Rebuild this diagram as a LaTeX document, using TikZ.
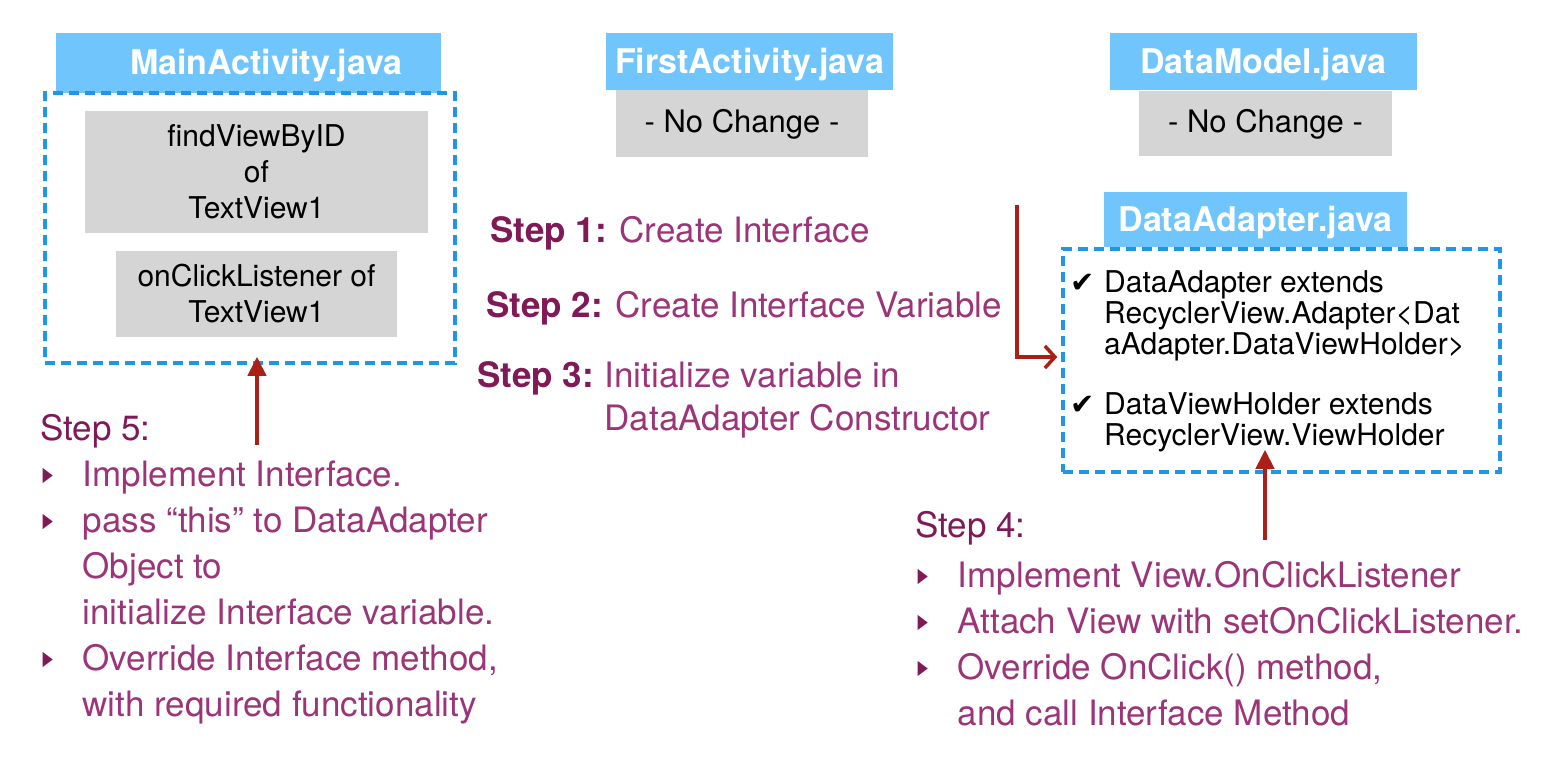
\documentclass[tikz,border=0pt]{standalone}
\usepackage{fontspec}
\setmainfont{TeX Gyre Heros}
\newfontfamily\symbolfont{DejaVu Sans}
\usetikzlibrary{positioning,arrows.meta}

\definecolor{headblue}{RGB}{112,198,252}
\definecolor{dashblue}{RGB}{28,152,230}
\definecolor{boxgray}{RGB}{214,213,214}
\definecolor{stepdark}{RGB}{128,26,86}
\definecolor{steplight}{RGB}{156,52,120}
\definecolor{arrowred}{RGB}{170,32,22}

\newcommand{\bul}{\hspace{2.5pt}\tikz[baseline=-3pt]\fill[stepdark] (0pt,0pt) -- (0pt,15pt) -- (10pt,7.5pt) -- cycle;}
\newcommand{\chk}{\makebox[34pt][l]{\symbolfont\fontsize{29}{31}\selectfont ✔}}
\newcommand{\stepno}[1]{\textcolor{stepdark}{\bfseries #1}}

\begin{document}
\begin{tikzpicture}[x=1pt,y=-1pt]

% definitions
\tikzstyle{header} = [rectangle, fill=headblue, text=white, font=\fontsize{34}{40}\selectfont\bfseries, text height=24pt, text depth=0pt, inner sep=0pt]
\tikzstyle{graybox} = [rectangle, fill=boxgray, text=black, font=\fontsize{30}{36}\selectfont, align=center, inner sep=0pt]
\tikzstyle{group} = [rectangle, draw=dashblue, line width=3.5pt, dash pattern=on 10pt off 6pt, inner sep=0pt]
\tikzstyle{steptext} = [text=steplight, font=\fontsize{35}{46}\selectfont, anchor=base west, inner sep=0pt]
\tikzstyle{codetext} = [text=black, font=\fontsize{30}{31}\selectfont, anchor=base west, inner sep=0pt]
\tikzstyle{arrow} = [color=arrowred, line width=4pt, -{Triangle[length=19pt,width=18pt]}]
\tikzstyle{openarrow} = [color=arrowred, line width=3.5pt, -{Straight Barb[length=10pt,width=22pt]}]

\useasboundingbox (0,0) rectangle (1550,770);

% the graph
\node (ma) [header, minimum width=385pt, minimum height=60pt] at (248.5,63) {\hspace{36pt}MainActivity.java};
\node (magroup) [group, minimum width=410pt, minimum height=270pt] at (250,228) {};
\node (find) [graybox, minimum width=343pt, minimum height=122pt] at (256.5,172) {findViewByID\\of\\TextView1};
\node (click) [graybox, minimum width=281pt, minimum height=86pt] at (256.5,294) {onClickListener of\\TextView1};

\node (fa) [header, minimum width=287pt, minimum height=57pt] at (749.5,61.5) {FirstActivity.java};
\node (fanc) [graybox, font=\fontsize{31}{36}\selectfont, minimum width=252pt, minimum height=67pt, below=0pt of fa, xshift=-7.5pt] {- No Change -};

\node (dm) [header, minimum width=307pt, minimum height=57pt] at (1263.5,61.5) {DataModel.java};
\node (dmnc) [graybox, font=\fontsize{31}{36}\selectfont, minimum width=253pt, minimum height=65pt, below=1pt of dm, xshift=2pt] {- No Change -};

\node (da) [header, minimum width=303pt, minimum height=55pt] at (1255.5,219.5) {DataAdapter.java};
\node (dagroup) [group, minimum width=437pt, minimum height=223pt] at (1281.5,360.5) {};
\node (dalist) [codetext] at (1070,292) {\begin{tabular}[t]{@{}l@{}l@{}}
\chk & DataAdapter extends\\
 & RecyclerView.Adapter<Dat\\
 & aAdapter.DataViewHolder>\\[29pt]
\chk & DataViewHolder extends\\
 & RecyclerView.ViewHolder
\end{tabular}};

\node (s1) [steptext] at (490,243) {\stepno{Step 1:} Create Interface};
\node (s2) [steptext] at (486,317) {\stepno{Step 2:} Create Interface Variable};
\node (s3) [steptext, font=\fontsize{35}{43}\selectfont] at (477,387) {\begin{tabular}[t]{@{}l@{\hspace{11pt}}l@{}}
\stepno{Step 3:} & Initialize variable in\\
 & DataAdapter Constructor
\end{tabular}};

\node (s5) [steptext] at (40,440) {\begin{tabular}[t]{@{}l@{\hspace{30pt}}l@{}}
\multicolumn{2}{@{}l@{}}{\textcolor{stepdark}{Step 5:}}\\
\bul & Implement Interface.\\
\bul & pass “this” to DataAdapter\\
 & Object to\\
 & initialize Interface variable.\\
\bul & Override Interface method,\\
 & with required functionality
\end{tabular}};

\node (s4) [steptext] at (915,537) {\begin{tabular}[t]{@{}l@{\hspace{30pt}}l@{}}
\multicolumn{2}{@{}l@{}}{\textcolor{stepdark}{Step 4:}}\\[4pt]
\bul & Implement View.OnClickListener\\
\bul & Attach View with setOnClickListener.\\
\bul & Override OnClick() method,\\
 & and call Interface Method
\end{tabular}};

\coordinate (s5top) at (257,445);
\coordinate (s4top) at (1265,540);
\coordinate (ebtop) at (1017,205);

\draw [arrow, shorten >=-8pt] (s5top) -- (s5top |- magroup.south);
\draw [arrow, shorten >=-24pt] (s4top) -- (s4top |- dagroup.south);
\draw [openarrow, shorten >=4pt] (ebtop) |- ([yshift=3.5pt]dagroup.west);

\end{tikzpicture}
\end{document}
